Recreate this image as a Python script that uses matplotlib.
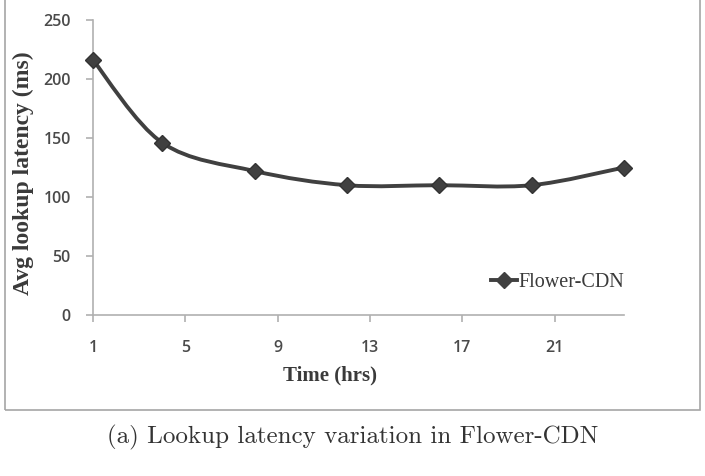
import numpy as np
import matplotlib.pyplot as plt
from matplotlib.path import Path
from matplotlib.patches import PathPatch, Rectangle
from matplotlib.lines import Line2D

# datos
hours = [1, 4, 8, 12, 16, 20, 24]
latency = [216, 146, 122, 110, 110, 110, 125]
xticks = [1, 5, 9, 13, 17, 21]
yticks = [0, 50, 100, 150, 200, 250]
series_name = 'Flower-CDN'

line_col = '#404040'
axis_col = '#b0b0b0'
tick_col = '#4a4a4a'

fig = plt.figure(figsize=(7.05, 4.76), dpi=100)

# marco del grafico (estilo Excel)
fig.patches.append(Rectangle((5 / 705, 1 - 410 / 476), 695 / 705, 410 / 476 + 0.01,
                             transform=fig.transFigure, fill=False,
                             edgecolor='#a6a6a6', linewidth=1.2))

ax = fig.add_axes([93 / 705, 1 - 315 / 476, (624 - 93) / 705, (315 - 20) / 476])
ax.set_xlim(1, 24)
ax.set_ylim(0, 250)

# curva suavizada (Catmull-Rom -> Bezier) a partir de los puntos
x = np.array(hours, dtype=float)
y = np.array(latency, dtype=float)
verts = [(x[0], y[0])]
codes = [Path.MOVETO]
k = 0.5 / 3
for i in range(len(x) - 1):
    x0, y0 = (x[i - 1], y[i - 1]) if i > 0 else (x[i], y[i])
    x3, y3 = (x[i + 2], y[i + 2]) if i + 2 < len(x) else (x[i + 1], y[i + 1])
    c1 = (x[i] + (x[i + 1] - x0) * k, y[i] + (y[i + 1] - y0) * k)
    c2 = (x[i + 1] - (x3 - x[i]) * k, y[i + 1] - (y3 - y[i]) * k)
    verts += [c1, c2, (x[i + 1], y[i + 1])]
    codes += [Path.CURVE4] * 3
ax.add_patch(PathPatch(Path(verts, codes), fill=False, edgecolor=line_col,
                       linewidth=2.8, capstyle='round', clip_on=False, zorder=3))
ax.plot(hours, latency, linestyle='none', marker='D', markersize=8.5,
        color=line_col, markeredgecolor='#333333', clip_on=False, zorder=4)

# ejes
for s in ['top', 'right']:
    ax.spines[s].set_visible(False)
ax.spines['left'].set_color(axis_col)
ax.spines['bottom'].set_color(axis_col)
ax.spines['left'].set_linewidth(1.2)
ax.spines['bottom'].set_linewidth(1.2)
ax.set_xticks(xticks)
ax.set_yticks(yticks)
ax.tick_params(axis='both', colors=axis_col, length=5, width=1.2, labelcolor=tick_col,
               labelsize=11.5)
ax.tick_params(axis='x', pad=13)
ax.tick_params(axis='y', pad=11)
for lab in ax.get_xticklabels() + ax.get_yticklabels():
    lab.set_family('Open Sans')
    lab.set_fontweight('semibold')

ax.set_ylabel('Avg lookup latency (ms)', family='Liberation Serif', fontweight='bold',
              fontsize=17, color='#3a3a3a')
ax.yaxis.label.set_va('center')
ax.yaxis.set_label_coords(-(93 - 23) / (624 - 93), 0.48)
ax.set_xlabel('Time (hrs)', family='Liberation Serif', fontweight='bold',
              fontsize=15, color='#3a3a3a')
ax.xaxis.label.set_va('center')
ax.xaxis.set_label_coords((330 - 93) / (624 - 93), -(375 - 315) / (315 - 20))

handle = Line2D([], [], color=line_col, linewidth=2.8, marker='D', markersize=8)
ax.legend([handle], [series_name], loc='center right', bbox_to_anchor=(1.035, 0.11),
          frameon=False, handlelength=1.3, handletextpad=0.1,
          prop={'family': 'Liberation Serif', 'size': 14.5})
for t in ax.get_legend().get_texts():
    t.set_color('#3a3a3a')

fig.text(0.5, 1 - 437 / 476, '(a) Lookup latency variation in Flower-CDN',
         ha='center', va='center', family='cmr10', fontsize=18, color='#333333')

fig.savefig('out.png', dpi=100)
